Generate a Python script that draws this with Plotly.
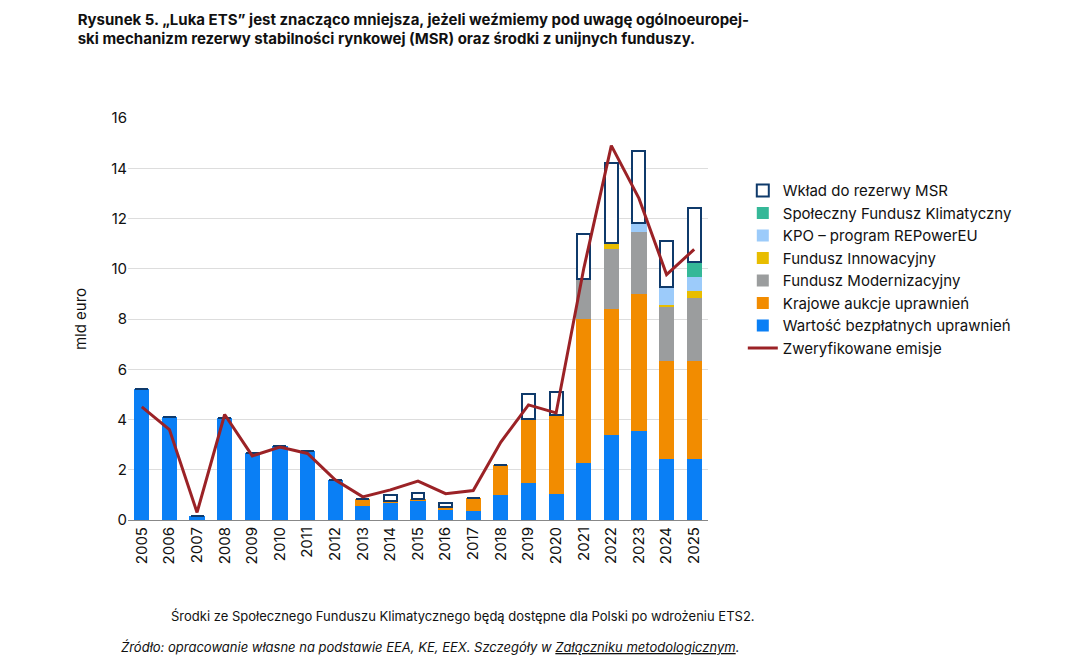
import plotly.graph_objects as go

years = [str(y) for y in range(2005, 2026)]
free_allow = [5.2, 4.1, 0.15, 4.05, 2.65, 2.95, 2.75, 1.6, 0.55, 0.68, 0.74, 0.41, 0.37, 0.98, 1.47, 1.04, 2.27, 3.4, 3.56, 2.43, 2.43]
auctions = [0, 0, 0, 0, 0, 0, 0, 0, 0.3, 0.09, 0.11, 0.09, 0.51, 1.22, 2.56, 3.12, 5.73, 5.0, 5.42, 3.89, 3.89]
modern = [0, 0, 0, 0, 0, 0, 0, 0, 0, 0, 0, 0, 0, 0, 0, 0, 1.6, 2.37, 2.48, 2.17, 2.52]
innov = [0, 0, 0, 0, 0, 0, 0, 0, 0, 0, 0, 0, 0, 0, 0, 0, 0, 0.26, 0, 0.05, 0.27]
kpo = [0, 0, 0, 0, 0, 0, 0, 0, 0, 0, 0, 0, 0, 0, 0, 0, 0, 0, 0.37, 0.73, 0.56]
climate = [0, 0, 0, 0, 0, 0, 0, 0, 0, 0, 0, 0, 0, 0, 0, 0, 0, 0, 0, 0, 0.61]
msr = [0, 0, 0, 0, 0, 0, 0, 0, 0, 0.23, 0.24, 0.17, 0, 0, 0.99, 0.93, 1.8, 3.17, 2.86, 1.83, 2.15]
emissions = [4.5, 3.6, 0.3, 4.2, 2.55, 2.9, 2.65, 1.6, 0.92, 1.2, 1.55, 1.05, 1.17, 3.1, 4.58, 4.26, 10.0, 14.9, 12.8, 9.77, 10.77]

fig = go.Figure()
bar_w = 0.55
stack = [
    ("Wartość bezpłatnych uprawnień", free_allow, "#0a7ff5"),
    ("Krajowe aukcje uprawnień", auctions, "#f28c00"),
    ("Fundusz Modernizacyjny", modern, "#9b9d9e"),
    ("Fundusz Innowacyjny", innov, "#e8bd00"),
    ("KPO – program REPowerEU", kpo, "#9ccbfa"),
    ("Społeczny Fundusz Klimatyczny", climate, "#35b898"),
]
for i, (name, vals, col) in enumerate(stack):
    fig.add_trace(go.Bar(x=years, y=vals, name=name, width=bar_w,
                         marker=dict(color=col, line=dict(width=0)),
                         legendgroup=name, legendrank=10 - i))
fig.add_trace(go.Bar(x=years, y=msr, name="Wkład do rezerwy MSR", width=bar_w - 0.08,
                     marker=dict(color="white", line=dict(color="#0f3a6b", width=2)),
                     legendgroup="msr", legendrank=2))
fig.add_trace(go.Scatter(x=years, y=emissions, name="Zweryfikowane emisje", mode="lines",
                         line=dict(color="#9b2226", width=3), legendgroup="em", legendrank=20))

fig.update_layout(
    barmode="stack",
    width=1089, height=671,
    paper_bgcolor="white", plot_bgcolor="white",
    font=dict(family="Inter, Noto Sans, sans-serif", size=15, color="#111"),
    margin=dict(l=120, r=389, t=110, b=159, autoexpand=False),
    showlegend=True,
    legend=dict(x=1.06, y=0.86, xanchor="left", yanchor="top", font=dict(size=15),
                tracegroupgap=8, itemwidth=30, traceorder="normal"),
    bargap=0.45,
    title=dict(
        text="<b>Rysunek 5. „Luka ETS” jest znacząco mniejsza, jeżeli weźmiemy pod uwagę ogólnoeuropej-<br>ski mechanizm rezerwy stabilności rynkowej (MSR) oraz środki z unijnych funduszy.</b>",
        x=0.064, xanchor="left", y=0.975, yanchor="top", font=dict(size=15)),
)
fig.update_yaxes(range=[0, 16], dtick=2, showgrid=True, gridcolor="#dddddd",
                 ticks="", zeroline=False, automargin=False,
                 title=dict(text="mld euro", font=dict(size=15), standoff=20))
fig.update_xaxes(tickangle=-90, showline=True, linecolor="#888", ticks="",
                 tickfont=dict(size=15), automargin=False)

fig.add_annotation(
    text="Środki ze Społecznego Funduszu Klimatycznego będą dostępne dla Polski po wdrożeniu ETS2.",
    xref="paper", yref="paper", x=0.07, y=-0.215, xanchor="left", yanchor="top",
    showarrow=False, font=dict(size=13))
fig.add_annotation(
    text="<i>Źródło: opracowanie własne na podstawie EEA, KE, EEX. Szczegóły w <span style='text-decoration:underline'>Załączniku metodologicznym</span>.</i>",
    xref="paper", yref="paper", x=-0.016, y=-0.29, xanchor="left", yanchor="top",
    showarrow=False, font=dict(size=13))

fig.write_html("out.html")
